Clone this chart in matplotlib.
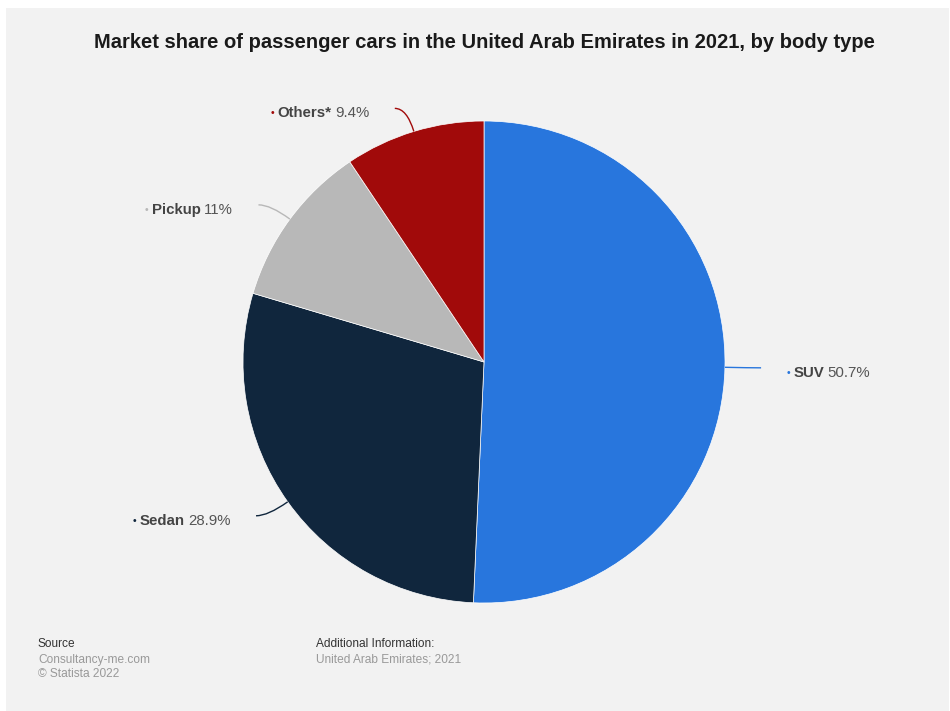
import numpy as np
import matplotlib.pyplot as plt
from matplotlib.path import Path
from matplotlib.patches import PathPatch, Rectangle

plt.rcParams['font.family'] = ['Liberation Sans', 'DejaVu Sans']

# market share by body type, clockwise from 12 o'clock
body_types = ["SUV", "Sedan", "Pickup", "Others*"]
shares = [50.7, 28.9, 11.0, 9.4]
share_labels = ["50.7%", "28.9%", "11%", "9.4%"]
colors = ["#2876dd", "#10263d", "#b8b8b8", "#a10a0a"]

W, H = 950, 711
fig = plt.figure(figsize=(W / 100, H / 100), dpi=100)
fig.patch.set_facecolor("white")
fig.patches.append(Rectangle((6 / W, 0), (949 - 6) / W, (H - 8) / H,
                             transform=fig.transFigure, facecolor="#f2f2f2",
                             edgecolor="none", zorder=-10))

# pie axes, sized in pixels
cx, cy, r = 484, 362, 241
ax = fig.add_axes([(cx - r) / W, (H - cy - r) / H, 2 * r / W, 2 * r / H])
wedges, _ = ax.pie(shares, colors=colors, startangle=90, counterclock=False,
                   radius=1, wedgeprops=dict(edgecolor="white", linewidth=0.5))
ax.set_xlim(-1, 1)
ax.set_ylim(-1, 1)
ax.set_aspect("equal")
ax.axis("off")

label_size = 10.8
gap = 2.5


def chain(prev, s, side, **kw):
    # put a text right next to the previous one
    return ax.annotate(s, xy=(0 if side < 0 else 1, 0.5), xycoords=prev,
                       xytext=(side * gap, 0), textcoords="offset points",
                       ha="right" if side < 0 else "left", va="center", **kw)


for w, name, val, col in zip(wedges, body_types, share_labels, colors):
    t = np.deg2rad((w.theta1 + w.theta2) / 2)
    c, s = np.cos(t), np.sin(t)
    side = 1 if c >= 0 else -1
    p0 = (c, s)
    p1 = (1.1 * c, 1.1 * s)
    p2 = (p1[0] + side * 0.05, p1[1])
    path = Path([p0, p1, p2], [Path.MOVETO, Path.CURVE3, Path.CURVE3])
    ax.add_patch(PathPatch(path, facecolor="none", edgecolor=col, lw=1.0,
                           clip_on=False))
    tx = p2[0] + side * 0.105
    ty = p2[1] - 0.021
    if side < 0:
        t_val = ax.text(tx, ty, val, ha="right", va="center",
                        fontsize=label_size, color="#555555")
        t_name = chain(t_val, name, -1, fontsize=label_size,
                       fontweight="bold", color="#444444")
        chain(t_name, "\u2022", -1, fontsize=7.5, color=col)
    else:
        t_dot = ax.text(tx, ty, "\u2022", ha="left", va="center",
                        fontsize=7.5, color=col)
        t_name = chain(t_dot, name, 1, fontsize=label_size,
                       fontweight="bold", color="#444444")
        chain(t_name, val, 1, fontsize=label_size, color="#555555")

fig.text(484 / W, 1 - 42 / H,
         "Market share of passenger cars in the United Arab Emirates in 2021, by body type",
         ha="center", va="center", fontsize=14.5, fontweight="bold",
         color="#1a1a1a")

# footer
fig.text(38 / W, 1 - 644 / H, "Source", fontsize=8.6, color="#333333", va="center")
fig.text(38 / W, 1 - 660 / H, "Consultancy-me.com", fontsize=8.6, color="#999999", va="center")
fig.text(38 / W, 1 - 674 / H, "\u00a9 Statista 2022", fontsize=8.6, color="#999999", va="center")
fig.text(316 / W, 1 - 644 / H, "Additional Information:", fontsize=8.6, color="#333333", va="center")
fig.text(316 / W, 1 - 660 / H, "United Arab Emirates; 2021", fontsize=8.6, color="#999999", va="center")

fig.savefig("out.png", dpi=100)
